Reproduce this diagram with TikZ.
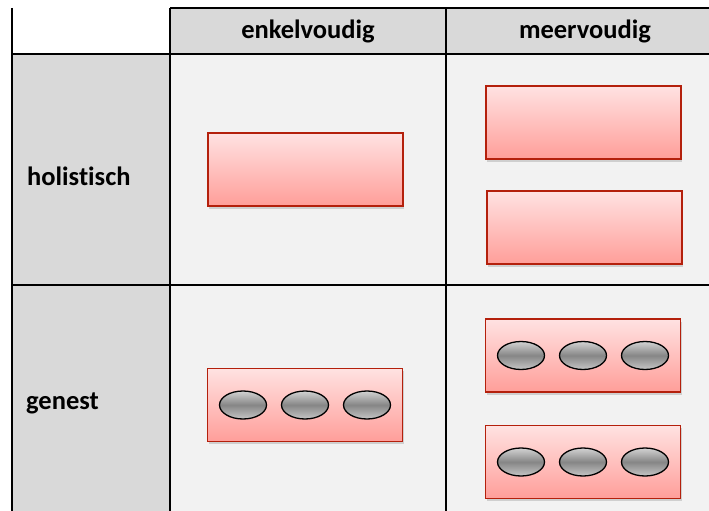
\documentclass[tikz,border=0pt]{standalone}
\usepackage{fontspec}
\setmainfont{Carlito}[Ligatures={NoCommon}]
\usepackage{tikz}
\usetikzlibrary{positioning,shapes.geometric,shadows}
\definecolor{headgray}{HTML}{D9D9D9}
\definecolor{cellgray}{HTML}{F2F2F2}
\definecolor{blockred}{RGB}{180,32,12}
\definecolor{blocktop}{HTML}{FFE2E2}
\definecolor{blockbot}{HTML}{FF9E99}
\tikzset{
  grid line/.style = {line width=1.8pt, black},
  label/.style = {font=\fontsize{26.5}{30}\selectfont\bfseries, inner sep=0pt},
  block/.style = {rectangle, draw=blockred, line width=1.6pt, inner sep=0pt,
    minimum width=195pt, minimum height=73pt,
    top color=blocktop, bottom color=blockbot,
    drop shadow={opacity=0.3, shadow xshift=1pt, shadow yshift=-2.5pt}},
  pill/.style = {ellipse, draw=black, line width=1.3pt, inner sep=0pt,
    minimum width=47pt, minimum height=28pt,
    top color=gray!35, bottom color=gray!45, middle color=gray!95!white}
}
\begin{document}
\begin{tikzpicture} [x = 1pt, y = -1pt, node distance = 62pt, on grid]
\useasboundingbox (0,0) rectangle (709,511);
% cell backgrounds
\fill [cellgray] (170,54) rectangle (709,511);
\fill [headgray] (170,8) rectangle (709,54);
\fill [headgray] (12,54) rectangle (170,511);
% table lines
\draw [grid line] (12,8) -- (12,511);
\draw [grid line] (170,8) -- (709,8);
\draw [grid line] (170,8) -- (170,511);
\draw [grid line] (446,8) -- (446,511);
\draw [grid line] (12,54) -- (709,54);
\draw [grid line] (12,285) -- (709,285);
% headers
\node [label] (enkel) at (308,31) {enkelvoudig};
\node [label] (meer) at (585,31) {meervoudig};
\node [label, anchor=west] (holist) at (27,176) {holistisch};
\node [label, anchor=west] (genest) at (26,403) {genest};
% holistic blocks
\node [block] (hE) at (305.5,169.5) {};
\node [block] (hM1) at (583.5,122.5) {};
\node [block] (hM2) at (584.5,227.5) {};
% nested blocks
\node [block] (gE) at (305,405) {};
\node [block] (gM1) at (583,355.5) {};
\node [block] (gM2) at (583,462) {};
\foreach \b in {gE, gM1, gM2} {
  \node [pill] (\b-m) at (\b.center) {};
  \node [pill] (\b-l) [left = of \b-m] {};
  \node [pill] (\b-r) [right = of \b-m] {};
}
\end{tikzpicture}
\end{document}
